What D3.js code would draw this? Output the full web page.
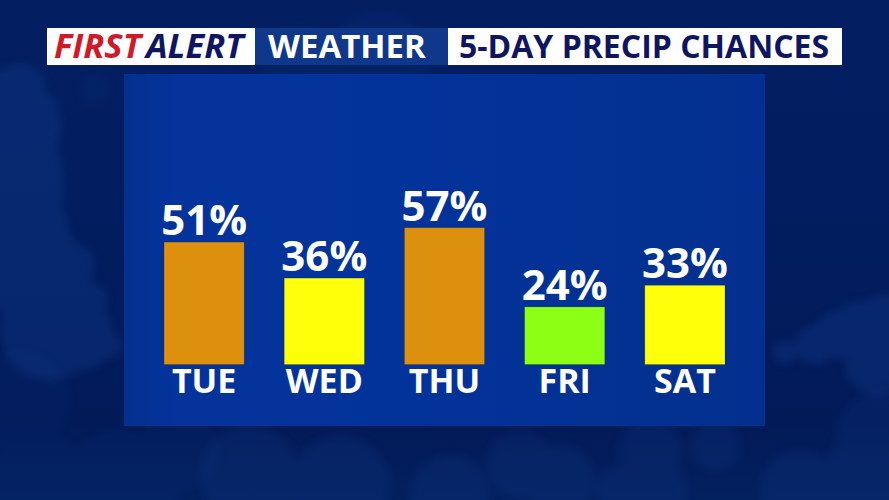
<!DOCTYPE html>
<html><head><meta charset="utf-8">
<script src="https://cdnjs.cloudflare.com/ajax/libs/d3/7.8.5/d3.min.js"></script>
<style>html,body{margin:0;padding:0;background:#021c5c}svg{display:block}</style>
</head><body><svg id="c" width="889" height="500"></svg>
<script>
const days = ["TUE","WED","THU","FRI","SAT"];
const chances = [51,36,57,24,33];
const barColors = ["#dc900e","#ffff0a","#dc900e","#8cff14","#ffff0a"];
const headerBoxes = [
  {x:47,w:208,fill:"#fff"},{x:255,w:193,fill:"#0f388a"},{x:448,w:394,fill:"#fff"}
];
const cloudLayers = [
  {o:.22,c:[[0,130,60],[20,90,26],[40,110,18],[48,125,14],[25,170,38],[50,180,14],[0,240,70],[48,195,16],[35,240,30],[62,250,16],[75,265,20],[70,300,30],[92,300,16],[98,325,14],[50,330,50],[85,350,20],[108,345,14],
        [815,345,20],[838,335,24],[858,325,24],[885,325,30],[875,365,30],[785,352,12]]},
  {o:.14,c:[[885,440,50],[870,490,55],[800,490,40],[660,490,28],[620,490,24],[560,480,36],[520,465,34],[450,495,40],[650,450,32],[715,445,26],[250,475,50],[340,485,50]]},
  {o:.07,c:[[120,490,60],[40,495,60],[95,90,16],[380,60,50],[300,65,40],[180,450,40],[20,400,50]]}
];
const svg = d3.select("#c");
const defs = svg.append("defs");
const bg = defs.append("linearGradient").attr("id","bg").attr("x1",0).attr("x2",0).attr("y1",0).attr("y2",1);
bg.selectAll("stop").data([["0%","#031f62"],["50%","#021d5e"],["85%","#021a58"],["100%","#03205f"]]).join("stop")
  .attr("offset",d=>d[0]).attr("stop-color",d=>d[1]);
const pg = defs.append("linearGradient").attr("id","panel").attr("x1",0).attr("x2",1).attr("y1",0).attr("y2",0);
pg.selectAll("stop").data([["0%","#04318f"],["8%","#03339b"],["45%","#02339a"],["100%","#03308e"]]).join("stop")
  .attr("offset",d=>d[0]).attr("stop-color",d=>d[1]);
defs.append("filter").attr("id","blur").attr("x","-20%").attr("y","-20%").attr("width","140%").attr("height","140%")
  .append("feGaussianBlur").attr("stdDeviation",4);

svg.append("rect").attr("width",889).attr("height",500).attr("fill","url(#bg)");
const layers = svg.selectAll("g.cl").data(cloudLayers).join("g").attr("class","cl")
  .attr("opacity",d=>d.o).attr("filter","url(#blur)");
layers.selectAll("circle").data(d=>d.c).join("circle")
  .attr("cx",d=>d[0]).attr("cy",d=>d[1]).attr("r",d=>d[2]).attr("fill","#1a4fa8");
svg.append("rect").attr("x",124).attr("y",74).attr("width",641).attr("height",352).attr("fill","url(#panel)");

// header
svg.selectAll("rect.h").data(headerBoxes).join("rect").attr("class","h")
  .attr("x",d=>d.x).attr("y",28).attr("width",d=>d.w).attr("height",37).attr("fill",d=>d.fill);
const font = "'Open Sans','Noto Sans',sans-serif";
const ft = svg.append("text").attr("x",54).attr("y",58).attr("font-family",font)
  .attr("font-weight",700).attr("font-style","italic").attr("font-size",34.5);
ft.append("tspan").attr("fill","#cf1a2a").text("FIRST");
ft.append("tspan").attr("fill","#0f1560").attr("dx",5).text("ALERT");
svg.append("text").attr("x",268).attr("y",58).attr("font-family",font).attr("font-weight",700)
  .attr("font-size",33).attr("fill","#fff").text("WEATHER");
svg.append("text").attr("x",459).attr("y",58).attr("font-family",font).attr("font-weight",700)
  .attr("font-size",32).attr("fill","#0f1560").text("5-DAY PRECIP CHANCES");

// chart
const x = d3.scaleBand().domain(days).range([144,745]).paddingInner(1/3).paddingOuter(1/6);
const y = d3.scaleLinear().domain([0,100]).range([364.5,124.5]);
const rows = days.map((d,i)=>({day:d,v:chances[i],c:barColors[i]}));
svg.selectAll("rect.bar").data(rows).join("rect").attr("class","bar")
  .attr("x",d=>x(d.day)).attr("y",d=>y(d.v)).attr("width",x.bandwidth())
  .attr("height",d=>y(0)-y(d.v)).attr("fill",d=>d.c)
  .attr("stroke","#000").attr("stroke-opacity",.18).attr("stroke-width",.8);
svg.selectAll("text.val").data(rows).join("text").attr("class","val")
  .attr("x",d=>x(d.day)+x.bandwidth()/2).attr("y",d=>y(d.v)-7)
  .attr("text-anchor","middle").attr("font-family",font).attr("font-weight",700)
  .attr("font-size",42).attr("fill","#fff").text(d=>d.v+"%");
const axis = d3.axisBottom(x).tickSize(0).tickPadding(0);
const ag = svg.append("g").attr("transform","translate(0,364.5)").call(axis);
ag.select(".domain").remove();
ag.selectAll("text").attr("y",0).attr("dy",28.5).attr("font-family",font).attr("font-weight",700)
  .attr("font-size",34).attr("fill","#fff");
</script></body></html>
